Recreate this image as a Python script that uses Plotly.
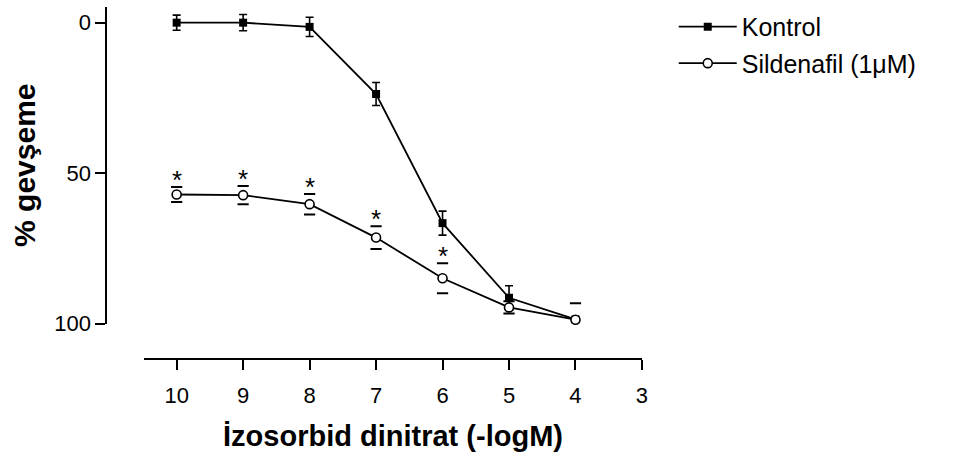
import plotly.graph_objects as go

# ---- data ----
dose = [10, 9, 8, 7, 6, 5, 4]
kontrol = [0, 0, 1.4, 23.7, 66.6, 91.4, 98.6]
kontrol_err = [2.5, 2.7, 3.2, 3.8, 4.0, 4.0, 0]
sildenafil = [57.1, 57.3, 60.3, 71.4, 84.9, 94.6, 98.7]
sildenafil_err = [2.5, 3.0, 3.4, 3.8, 5.0, 2.0, 5.5]
significant = [True, True, True, True, True, False, False]
x_ticks = [10, 9, 8, 7, 6, 5, 4, 3]
y_ticks = [0, 50, 100]

W, H = 956, 463
FONT = "Liberation Sans, Arial, sans-serif"

fig = go.Figure()

fig.add_trace(go.Scatter(
    x=dose, y=kontrol, name="Kontrol", mode="lines+markers",
    line=dict(color="black", width=1.8),
    marker=dict(symbol="square", size=8, color="black"),
    error_y=dict(type="data", array=kontrol_err, color="black", thickness=1.6, width=4),
    cliponaxis=False, legendgroup="a",
))

# sildenafil caps (drawn as short dashes, without the vertical stem)
cap_x = dose + dose
cap_y = [m - e for m, e in zip(sildenafil, sildenafil_err)] + [m + e for m, e in zip(sildenafil, sildenafil_err)]
fig.add_trace(go.Scatter(
    x=cap_x, y=cap_y, mode="markers", showlegend=False, hoverinfo="skip",
    marker=dict(symbol="line-ew", size=8, line=dict(color="black", width=2)),
    cliponaxis=True,
))

fig.add_trace(go.Scatter(
    x=dose, y=sildenafil, name="Sildenafil (1\u03bcM)", mode="lines+markers",
    line=dict(color="black", width=1.8),
    marker=dict(symbol="circle", size=9, color="white", line=dict(color="black", width=1.6)),
    cliponaxis=False, legendgroup="b",
))

# significance asterisks above the upper caps
for d, m, e, s in zip(dose, sildenafil, sildenafil_err, significant):
    if s:
        fig.add_annotation(
            x=d, y=m - e, xref="x", yref="y", text="*", showarrow=False,
            yanchor="middle", xanchor="center", yshift=7,
            font=dict(size=26, color="black", family=FONT),
        )

fig.update_layout(
    width=W, height=H,
    margin=dict(l=0, r=0, t=0, b=0),
    paper_bgcolor="white", plot_bgcolor="white",
    font=dict(family=FONT, color="black", size=22),
    showlegend=True,
    legend=dict(
        x=678 / W, y=1 - 4 / H, xanchor="left", yanchor="top",
        font=dict(size=25, family=FONT, color="black"),
        bgcolor="rgba(0,0,0,0)", borderwidth=0,
        tracegroupgap=1, itemwidth=58, traceorder="grouped",
    ),
    xaxis=dict(
        domain=[145 / W, 646 / W], range=[10.49, 3],
        anchor="free", position=1 - 369 / H,
        tickmode="array", tickvals=x_ticks, ticktext=[str(t) for t in x_ticks],
        ticks="outside", ticklen=10, tickwidth=1.6, tickcolor="black",
        ticklabelstandoff=7,
        showline=True, linecolor="black", linewidth=2,
        showgrid=False, zeroline=False,
        tickfont=dict(size=22),
        title=dict(text="<b>\u0130zosorbid dinitrat (-logM)</b>", font=dict(size=29), standoff=18),
    ),
    yaxis=dict(
        domain=[1 - 333 / H, 1 - 7 / H], range=[100, -5.27],
        anchor="free", position=107 / W,
        tickmode="array", tickvals=y_ticks, ticktext=[str(t) for t in y_ticks],
        ticks="outside", ticklen=10, tickwidth=1.6, tickcolor="black",
        showline=True, linecolor="black", linewidth=2,
        showgrid=False, zeroline=False,
        tickfont=dict(size=22),
        title=dict(text="<b>% gev\u015feme</b>", font=dict(size=30), standoff=9),
    ),
)

fig.write_html("out.html")
